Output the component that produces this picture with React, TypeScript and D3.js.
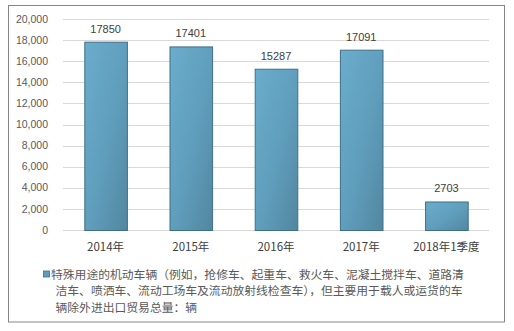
import React from "react";
import * as d3 from "d3";

const categories = ["2014年", "2015年", "2016年", "2017年", "2018年1季度"];
const values = [17850, 17401, 15287, 17091, 2703];
const yTicks = [0, 2000, 4000, 6000, 8000, 10000, 12000, 14000, 16000, 18000, 20000];
const legendLines = [
  "特殊用途的机动车辆（例如，抢修车、起重车、救火车、泥凝土搅拌车、道路清",
  "洁车、喷洒车、流动工场车及流动放射线检查车），但主要用于载人或运货的车",
  "辆除外进出口贸易总量：辆",
];

export default function App() {
  const W = 514, H = 331;
  const x = d3.scaleBand<string>().domain(categories).range([63, 489]).paddingInner(0.5).paddingOuter(0.25);
  const y = d3.scaleLinear().domain([0, 20000]).range([230, 19]);
  const fmt = d3.format(",");
  const cjk = "'Noto Sans CJK SC', 'Noto Sans', sans-serif";
  const num = "'Liberation Sans', Arial, sans-serif";
  return (
    <svg width={W} height={H} style={{ position: "absolute", left: 0, top: 0 }}>
      <defs>
        <linearGradient id="barGrad" x1="0" y1="0" x2="1" y2="1">
          <stop offset="0%" stopColor="#6badcd" />
          <stop offset="55%" stopColor="#5f9dbb" />
          <stop offset="100%" stopColor="#52869f" />
        </linearGradient>
      </defs>
      <rect x={0} y={0} width={W} height={H} fill="#ffffff" />
      <rect x={8.5} y={5.5} width={496} height={316.5} fill="#ffffff" stroke="#868686" strokeWidth={1} />
      {yTicks.map((t) => (
        <g key={t}>
          <line x1={63} x2={489} y1={Math.round(y(t)) + 0.5} y2={Math.round(y(t)) + 0.5} stroke="#d9d9d9" strokeWidth={1} />
          <text x={48} y={y(t)} dy="0.35em" textAnchor="end" fontSize={10.5} fontFamily={num} fill="#595959">
            {fmt(t)}
          </text>
        </g>
      ))}
      {categories.map((c, i) => {
        const bx = x(c)!;
        const bw = x.bandwidth();
        const top = y(values[i]);
        return (
          <g key={c}>
            <rect x={bx + 0.5} y={top + 0.5} width={bw} height={y(0) - top} fill="url(#barGrad)" stroke="#3f6f86" strokeWidth={1} />
            <text x={bx + bw / 2} y={top - 9} textAnchor="middle" fontSize={11} fontFamily={num} fill="#404040">
              {values[i]}
            </text>
            <text x={bx + bw / 2} y={247} dy="0.35em" textAnchor="middle" fontSize={11.5} fontFamily={cjk} fill="#404040">
              {c}
            </text>
          </g>
        );
      })}
      <rect x={43.5} y={271} width={6} height={6} fill="#5f9dbb" stroke="#3f6f86" strokeWidth={0.8} />
      {legendLines.map((l, i) => (
        <text key={i} x={i === 0 ? 51 : 55.5} y={274.5 + i * 16.5} dy="0.35em" fontSize={11.8} fontFamily={cjk} fill="#595959">
          {l}
        </text>
      ))}
    </svg>
  );
}
